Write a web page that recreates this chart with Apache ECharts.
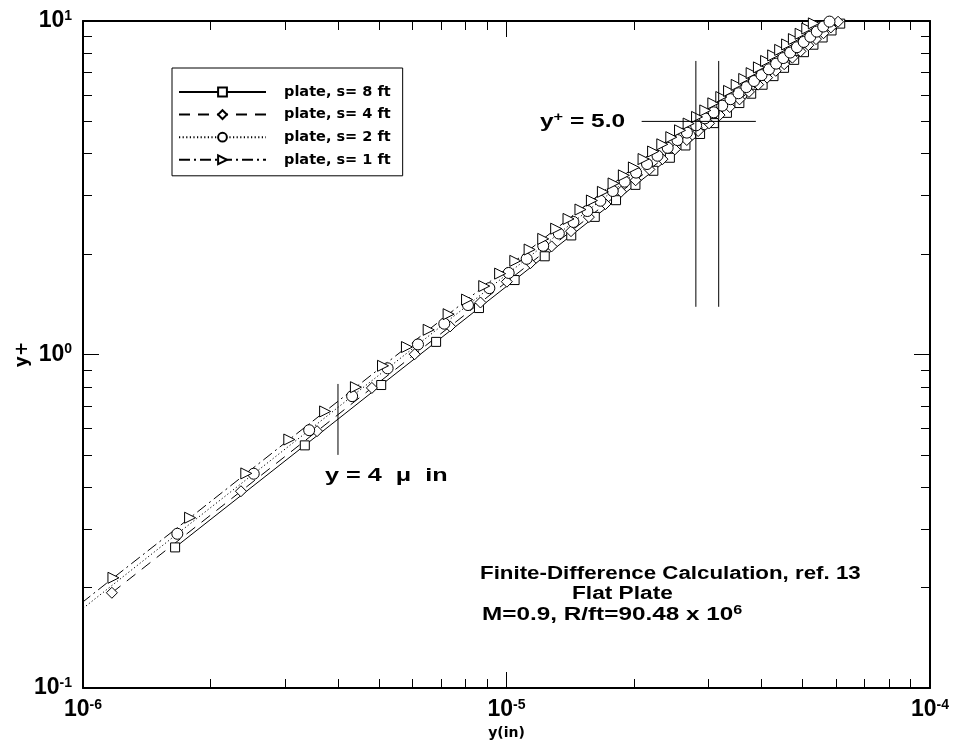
<!DOCTYPE html>
<html>
<head>
<meta charset="utf-8">
<title>y+ near the wall, flat plate</title>
<script src="https://cdn.jsdelivr.net/npm/echarts@6.0.0/dist/echarts.min.js"></script>
<style>
  html, body { margin: 0; padding: 0; background: #fff; }
  #chart { width: 956px; height: 748px; }
</style>
</head>
<body>
<div id="chart"></div>
<script>
// station names, in legend order
const stationNames = ['plate, s= 8 ft', 'plate, s= 4 ft', 'plate, s= 2 ft', 'plate, s= 1 ft']

// s = 8 ft : y (in) and y+
const yS8 = [1.65e-6, 3.34e-6, 5.06e-6, 6.82e-6, 8.61e-6, 10.45e-6, 12.31e-6, 14.22e-6, 16.16e-6, 18.14e-6,
  20.16e-6, 22.22e-6, 24.31e-6, 26.46e-6, 28.65e-6, 30.88e-6, 33.15e-6, 35.47e-6, 37.83e-6, 40.25e-6,
  42.71e-6, 45.23e-6, 47.79e-6, 50.40e-6, 53.06e-6, 55.78e-6, 58.55e-6, 61.38e-6]
const ypS8 = [0.264, 0.534, 0.810, 1.091, 1.378, 1.672, 1.970, 2.275, 2.586, 2.902,
  3.226, 3.555, 3.890, 4.234, 4.584, 4.941, 5.304, 5.675, 6.053, 6.440,
  6.834, 7.237, 7.646, 8.064, 8.490, 8.925, 9.368, 9.821]

// s = 4 ft
const yS4 = [1.17e-6, 2.36e-6, 3.57e-6, 4.81e-6, 6.07e-6, 7.36e-6, 8.68e-6, 10.02e-6, 11.39e-6, 12.78e-6,
  14.20e-6, 15.65e-6, 17.13e-6, 18.64e-6, 20.18e-6, 21.75e-6, 23.35e-6, 24.98e-6, 26.65e-6, 28.35e-6,
  30.08e-6, 31.85e-6, 33.66e-6, 35.50e-6, 37.37e-6, 39.29e-6, 41.24e-6, 43.23e-6, 45.26e-6, 47.33e-6,
  49.45e-6, 51.60e-6, 53.80e-6, 56.04e-6, 58.33e-6, 60.66e-6]
const ypS4 = [0.193, 0.389, 0.589, 0.794, 1.002, 1.214, 1.432, 1.653, 1.879, 2.109,
  2.343, 2.582, 2.826, 3.076, 3.330, 3.589, 3.853, 4.122, 4.397, 4.678,
  4.933, 5.223, 5.520, 5.822, 6.129, 6.444, 6.763, 7.090, 7.423, 7.762,
  8.110, 8.462, 8.823, 9.191, 9.566, 9.948]

// s = 2 ft
const yS2 = [0.82e-6, 1.67e-6, 2.53e-6, 3.42e-6, 4.32e-6, 5.24e-6, 6.18e-6, 7.13e-6, 8.11e-6, 9.11e-6,
  10.12e-6, 11.16e-6, 12.21e-6, 13.29e-6, 14.39e-6, 15.52e-6, 16.66e-6, 17.82e-6, 19.01e-6, 20.23e-6,
  21.47e-6, 22.73e-6, 24.02e-6, 25.33e-6, 26.67e-6, 28.04e-6, 29.43e-6, 30.86e-6, 32.31e-6, 33.79e-6,
  35.30e-6, 36.84e-6, 38.41e-6, 40.01e-6, 41.65e-6, 43.31e-6, 45.01e-6, 46.75e-6, 48.51e-6, 50.32e-6,
  52.16e-6, 54.03e-6, 55.95e-6, 57.90e-6]
const ypS2 = [0.142, 0.290, 0.439, 0.593, 0.750, 0.909, 1.072, 1.237, 1.407, 1.581,
  1.756, 1.936, 2.118, 2.306, 2.497, 2.693, 2.891, 3.092, 3.298, 3.510,
  3.725, 3.944, 4.167, 4.395, 4.627, 4.865, 5.106, 5.323, 5.573, 5.829,
  6.072, 6.336, 6.607, 6.882, 7.164, 7.449, 7.742, 8.041, 8.344, 8.655,
  8.972, 9.293, 9.623, 9.959]

// s = 1 ft
const yS1 = [0.58e-6, 1.18e-6, 1.79e-6, 2.43e-6, 3.07e-6, 3.73e-6, 4.41e-6, 5.11e-6, 5.82e-6, 6.55e-6,
  7.30e-6, 8.07e-6, 8.86e-6, 9.66e-6, 10.49e-6, 11.34e-6, 12.21e-6, 13.10e-6, 14.01e-6, 14.95e-6,
  15.91e-6, 16.89e-6, 17.90e-6, 18.93e-6, 19.99e-6, 21.07e-6, 22.19e-6, 23.33e-6, 24.50e-6, 25.69e-6,
  26.92e-6, 28.18e-6, 29.47e-6, 30.79e-6, 32.15e-6, 33.54e-6, 34.96e-6, 36.42e-6, 37.92e-6, 39.45e-6,
  41.02e-6, 42.63e-6, 44.28e-6, 45.98e-6, 47.71e-6, 49.49e-6, 51.31e-6, 53.18e-6]
const ypS1 = [0.105, 0.214, 0.324, 0.440, 0.556, 0.675, 0.798, 0.925, 1.053, 1.186,
  1.321, 1.461, 1.604, 1.748, 1.909, 2.064, 2.222, 2.384, 2.550, 2.721,
  2.896, 3.074, 3.258, 3.445, 3.638, 3.856, 4.061, 4.269, 4.484, 4.701,
  4.926, 5.157, 5.393, 5.665, 5.916, 6.171, 6.433, 6.701, 6.977, 7.259,
  7.589, 7.887, 8.192, 8.506, 8.826, 9.156, 9.492, 9.838]

// reference marks
const yPlusMark = 5.0
const yPlusMarkSpan = [2.085e-5, 3.88e-5]   // horizontal line at y+ = 5
const yAtYPlus5 = [2.80e-5, 3.17e-5]        // s=1 ft and s=8 ft crossings
const yPlusSpan = [1.39, 7.59]
const yFourMicro = 4e-6
const yFourMicroSpan = [0.5, 0.816]

// axis range
const xRange = [1e-6, 1e-4]
const yRange = [0.1, 10]

const chart = echarts.init(document.getElementById('chart'), null, { renderer: 'canvas' })

const ARIAL = '"Liberation Sans", Arial, Helvetica, sans-serif'
const DEJAVU = '"DejaVu Sans", sans-serif'

const powLabel = v => '{b|10}{s|' + Math.round(Math.log10(v)) + '}'
const powRich = {
  b: { fontFamily: ARIAL, fontWeight: 'bold', fontSize: 23, lineHeight: 24, color: '#000' },
  s: { fontFamily: ARIAL, fontWeight: 'bold', fontSize: 14, lineHeight: 12, color: '#000', verticalAlign: 'top' }
}

const station = (name, xs, ys, symbol, size, dash, rotate) => ({
  name,
  type: 'line',
  data: xs.map((x, i) => [x, ys[i]]),
  symbol,
  symbolSize: size,
  symbolRotate: rotate || 0,
  lineStyle: { color: '#000', width: 1, type: dash },
  itemStyle: { color: '#fff', borderColor: '#000', borderWidth: 1 },
  emphasis: { disabled: true },
  silent: true,
  z: 3
})

const refLine = pts => ({
  type: 'line',
  data: pts,
  symbol: 'none',
  lineStyle: { color: '#000', width: 1 },
  silent: true,
  z: 4
})

const edgeAxis = (pos, range, labels) => ({
  type: 'log',
  logBase: 10,
  position: pos,
  min: range[0],
  max: range[1],
  axisLine: { show: true, lineStyle: { color: '#000', width: 2 } },
  axisTick: { show: true, inside: true, length: 16, lineStyle: { color: '#000', width: 1 } },
  minorTick: { show: true, splitNumber: 9, length: 9, lineStyle: { color: '#000', width: 1 } },
  splitLine: { show: false },
  minorSplitLine: { show: false },
  axisLabel: labels ? {
    show: true,
    formatter: powLabel,
    rich: powRich,
    margin: pos === 'left' ? 11 : 10
  } : { show: false }
})

const xMain = edgeAxis('bottom', xRange, true)
xMain.name = 'y(in)'
xMain.nameLocation = 'middle'
xMain.nameGap = 38
xMain.nameMoveOverlap = false
xMain.nameTextStyle = { fontFamily: DEJAVU, fontWeight: 'bold', fontSize: 14, color: '#000' }

const yMain = edgeAxis('left', yRange, true)
yMain.name = 'y+'
yMain.nameLocation = 'middle'
yMain.nameGap = 52
yMain.nameMoveOverlap = false
yMain.nameTextStyle = { fontFamily: DEJAVU, fontWeight: 'bold', fontSize: 17, color: '#000' }

const option = {
  backgroundColor: '#fff',
  animation: false,
  grid: { left: 83, right: 26, top: 21, bottom: 60, containLabel: false, outerBoundsMode: 'none' },
  xAxis: [xMain, edgeAxis('top', xRange, false)],
  yAxis: [yMain, edgeAxis('right', yRange, false)],
  legend: {
    data: stationNames,
    orient: 'vertical',
    left: 172,
    top: 68,
    itemWidth: 87,
    itemHeight: 11,
    itemGap: 6.6,
    padding: [16, 12, 8, 6],
    borderColor: '#000',
    borderWidth: 1,
    borderRadius: 0,
    backgroundColor: '#fff',
    selectedMode: false,
    textStyle: {
      fontFamily: DEJAVU, fontWeight: 'bold', fontSize: 14.5, lineHeight: 16,
      color: '#000', padding: [0, 0, 0, 13]
    }
  },
  series: [
    station(stationNames[0], yS8, ypS8, 'rect', 9, 'solid'),
    station(stationNames[1], yS4, ypS4, 'diamond', 11, [11, 8]),
    station(stationNames[2], yS2, ypS2, 'circle', 11, [1.2, 2.4]),
    station(stationNames[3], yS1, ypS1, 'triangle', 11, [11, 4, 2, 4], -90),
    refLine([[yPlusMarkSpan[0], yPlusMark], [yPlusMarkSpan[1], yPlusMark]]),
    refLine([[yAtYPlus5[0], yPlusSpan[0]], [yAtYPlus5[0], yPlusSpan[1]]]),
    refLine([[yAtYPlus5[1], yPlusSpan[0]], [yAtYPlus5[1], yPlusSpan[1]]]),
    refLine([[yFourMicro, yFourMicroSpan[0]], [yFourMicro, yFourMicroSpan[1]]])
  ],
  graphic: [
    {
      type: 'text', x: 540, y: 122, scaleX: 1.36, silent: true,
      style: {
        text: '{a|y}{s|+}{a| = 5.0}',
        verticalAlign: 'middle', align: 'left', fill: '#000',
        rich: {
          a: { fontFamily: ARIAL, fontWeight: 'bold', fontSize: 18, lineHeight: 20 },
          s: { fontFamily: ARIAL, fontWeight: 'bold', fontSize: 12, lineHeight: 10, verticalAlign: 'top' }
        }
      }
    },
    {
      type: 'text', x: 325, y: 476, scaleX: 1.4, silent: true,
      style: {
        text: 'y = 4  \u03bc  in', verticalAlign: 'middle', align: 'left', fill: '#000',
        fontFamily: ARIAL, fontWeight: 'bold', fontSize: 18
      }
    },
    {
      type: 'text', x: 480, y: 574, scaleX: 1.24, silent: true,
      style: {
        text: 'Finite-Difference Calculation, ref. 13', verticalAlign: 'middle', align: 'left', fill: '#000',
        fontFamily: ARIAL, fontWeight: 'bold', fontSize: 18
      }
    },
    {
      type: 'text', x: 572, y: 594, scaleX: 1.26, silent: true,
      style: {
        text: 'Flat Plate', verticalAlign: 'middle', align: 'left', fill: '#000',
        fontFamily: ARIAL, fontWeight: 'bold', fontSize: 18
      }
    },
    {
      type: 'text', x: 482, y: 615, scaleX: 1.35, silent: true,
      style: {
        text: '{a|M=0.9, R/ft=90.48 x 10}{s|6}',
        verticalAlign: 'middle', align: 'left', fill: '#000',
        rich: {
          a: { fontFamily: ARIAL, fontWeight: 'bold', fontSize: 18, lineHeight: 20 },
          s: { fontFamily: ARIAL, fontWeight: 'bold', fontSize: 12, lineHeight: 10, verticalAlign: 'top' }
        }
      }
    }
  ]
}

chart.setOption(option)
</script>
</body>
</html>
